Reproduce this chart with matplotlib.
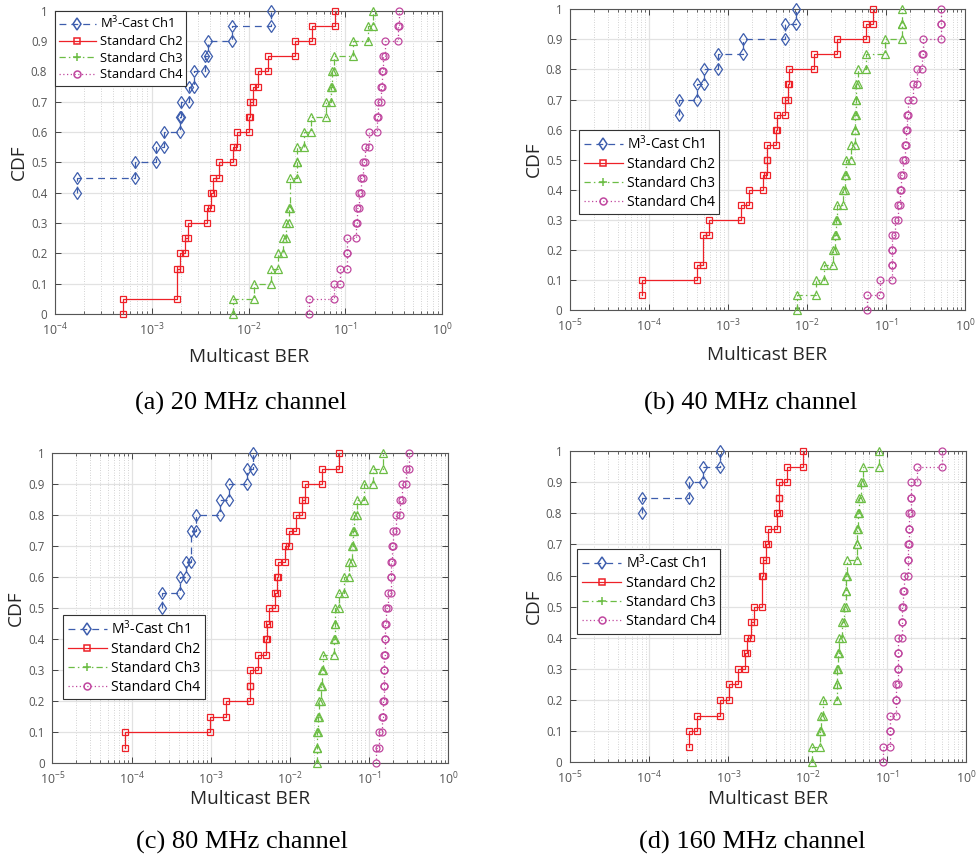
import numpy as np
import matplotlib
matplotlib.use("Agg")
import matplotlib.pyplot as plt
from matplotlib.lines import Line2D
from matplotlib.ticker import LogLocator, NullFormatter

plt.rcParams['font.family'] = ['Open Sans', 'DejaVu Sans']
plt.rcParams['mathtext.fontset'] = 'custom'
plt.rcParams['mathtext.rm'] = 'Open Sans'
plt.rcParams['mathtext.it'] = 'Open Sans:italic'
plt.rcParams['mathtext.bf'] = 'Open Sans:bold'
plt.rcParams['mathtext.default'] = 'regular'

# Each run set has 20 trials; values are log10(multicast BER) of the trials
# with non-zero BER, plus the number of error-free trials.
N_RUNS = 20
series_names = ['M$^3$-Cast Ch1', 'Standard Ch2', 'Standard Ch3', 'Standard Ch4']
captions = ['(a) 20 MHz channel', '(b) 40 MHz channel',
            '(c) 80 MHz channel', '(d) 160 MHz channel']

# 20 MHz channel
a_ch1_zeros = 8
a_ch1 = [-3.77, -3.17, -2.96, -2.875, -2.71, -2.70, -2.617, -2.565, -2.45, -2.42, -2.17, -1.77]
a_ch2_zeros = 0
a_ch2 = [-3.295, -2.738, -2.738, -2.71, -2.655, -2.624, -2.434, -2.389, -2.372, -2.307,
         -2.159, -2.116, -1.994, -1.987, -1.952, -1.901, -1.798, -1.522, -1.343, -1.108]
a_ch3_zeros = 0
a_ch3 = [-2.159, -1.942, -1.773, -1.694, -1.649, -1.615, -1.580, -1.575, -1.575, -1.504,
         -1.500, -1.425, -1.356, -1.205, -1.150, -1.136, -1.119, -0.919, -0.771, -0.712]
a_ch4_zeros = 0
a_ch4 = [-1.377, -1.115, -1.057, -0.988, -0.985, -0.895, -0.878, -0.857, -0.843, -0.823,
         -0.802, -0.757, -0.671, -0.668, -0.633, -0.626, -0.609, -0.595, -0.461, -0.447]

# 40 MHz channel
b_ch1_zeros = 13
b_ch1 = [-3.616, -3.388, -3.304, -3.131, -2.814, -2.278, -2.139]
b_ch2_zeros = 1
b_ch2 = [-4.084, -3.388, -3.312, -3.312, -3.241, -2.835, -2.730, -2.553, -2.511, -2.502,
         -2.392, -2.376, -2.278, -2.236, -2.224, -1.907, -1.616, -1.253, -1.160]
b_ch3_zeros = 0
b_ch3 = [-2.131, -1.886, -1.785, -1.667, -1.646, -1.633, -1.624, -1.549, -1.515, -1.506,
         -1.447, -1.397, -1.392, -1.384, -1.376, -1.359, -1.257, -1.013, -0.802, -0.797]
b_ch4_zeros = 0
b_ch4 = [-1.245, -1.076, -0.926, -0.922, -0.918, -0.890, -0.852, -0.823, -0.810, -0.781,
         -0.764, -0.751, -0.734, -0.717, -0.654, -0.612, -0.549, -0.527, -0.308, -0.304]

# 80 MHz channel
c_ch1_zeros = 10
c_ch1 = [-3.611, -3.388, -3.312, -3.245, -3.245, -3.186, -2.883, -2.769, -2.546, -2.462]
c_ch2_zeros = 1
c_ch2 = [-4.082, -3.009, -2.813, -2.510, -2.504, -2.409, -2.308, -2.283, -2.258, -2.182,
         -2.163, -2.144, -2.056, -2.011, -1.929, -1.847, -1.809, -1.598, -1.380]
c_ch3_zeros = 0
c_ch3 = [-1.654, -1.652, -1.641, -1.628, -1.611, -1.590, -1.578, -1.439, -1.435, -1.426,
         -1.376, -1.317, -1.258, -1.220, -1.199, -1.187, -1.157, -1.060, -0.947, -0.829]
c_ch4_zeros = 0
c_ch4 = [-0.917, -0.875, -0.841, -0.829, -0.816, -0.812, -0.808, -0.803, -0.795, -0.787,
         -0.757, -0.728, -0.719, -0.707, -0.694, -0.656, -0.610, -0.589, -0.530, -0.496]

# 160 MHz channel
d_ch1_zeros = 16
d_ch1 = [-4.095, -3.497, -3.325, -3.106]
d_ch2_zeros = 1
d_ch2 = [-3.497, -3.401, -3.106, -2.989, -2.875, -2.790, -2.759, -2.715, -2.683, -2.580,
         -2.580, -2.557, -2.525, -2.500, -2.383, -2.365, -2.355, -2.264, -2.055]
d_ch3_zeros = 0
d_ch3 = [-1.949, -1.843, -1.831, -1.810, -1.627, -1.623, -1.620, -1.599, -1.566, -1.540,
         -1.515, -1.511, -1.498, -1.380, -1.372, -1.364, -1.351, -1.330, -1.296, -1.094]
d_ch4_zeros = 0
d_ch4 = [-1.052, -0.962, -0.958, -0.890, -0.886, -0.863, -0.859, -0.854, -0.812, -0.808,
         -0.795, -0.779, -0.732, -0.728, -0.726, -0.724, -0.696, -0.692, -0.623, -0.307]

x_min_exp = [-4, -5, -5, -5]

panels = [
    [(a_ch1, a_ch1_zeros), (a_ch2, a_ch2_zeros), (a_ch3, a_ch3_zeros), (a_ch4, a_ch4_zeros)],
    [(b_ch1, b_ch1_zeros), (b_ch2, b_ch2_zeros), (b_ch3, b_ch3_zeros), (b_ch4, b_ch4_zeros)],
    [(c_ch1, c_ch1_zeros), (c_ch2, c_ch2_zeros), (c_ch3, c_ch3_zeros), (c_ch4, c_ch4_zeros)],
    [(d_ch1, d_ch1_zeros), (d_ch2, d_ch2_zeros), (d_ch3, d_ch3_zeros), (d_ch4, d_ch4_zeros)],
]

BLUE = '#3d5dad'
RED = '#ee2128'
GREEN = '#6cbd45'
MAGENTA = '#c0479f'

styles = [
    dict(color=BLUE, linestyle=(0, (5.5, 4)), marker='d', markersize=6.0),
    dict(color=RED, linestyle='-', marker='s', markersize=5.0),
    dict(color=GREEN, linestyle=(0, (5, 2.5, 1.2, 2.5)), marker='^', markersize=5.5),
    dict(color=MAGENTA, linestyle=(0, (1, 2)), marker='o', markersize=5.0),
]
legend_markers = ['d', 's', '+', 'o']


def ecdf_stairs(log_ber, n_zero):
    """Vertices of the empirical CDF staircase (error-free runs are off the log axis)."""
    vals, counts = np.unique(np.asarray(log_ber, dtype=float), return_counts=True)
    cum = n_zero + np.concatenate([[0], np.cumsum(counts)])
    x = np.repeat(10.0 ** vals, 2)
    y = np.empty_like(x)
    y[0::2] = cum[:-1] / N_RUNS
    y[1::2] = cum[1:] / N_RUNS
    return x, y


W, H = 976, 859
fig = plt.figure(figsize=(W / 100, H / 100), dpi=100)

# axes boxes in pixels: left, top, right, bottom
boxes = [(55, 10.7, 442.3, 314.0), (570, 9.3, 965, 310.0),
         (52.3, 453.3, 448.3, 763.3), (570, 451.0, 966, 762.3)]
legend_ul = [(55, 10.7), (579.3, 130.0), (63.3, 615.0), (577.3, 549.3)]
legend_size = [9.4, 10.0, 10.1, 10.2]
xlabel_y = [357, 355, 799, 799]
caption_xy = [(241, 410), (751, 410), (242, 849), (752, 849)]

for p, (box, series) in enumerate(zip(boxes, panels)):
    l, t, r, b = box
    ax = fig.add_axes([l / W, 1 - b / H, (r - l) / W, (b - t) / H])
    for (vals, nz), st in zip(series, styles):
        x, y = ecdf_stairs(vals, nz)
        ax.plot(x, y, linewidth=0.9, markerfacecolor='none', markeredgewidth=0.9,
                clip_on=False, zorder=3, **st)
    ax.set_xscale('log')
    ax.set_xlim(10.0 ** x_min_exp[p], 1.0)
    ax.set_ylim(0, 1)
    majors = [10.0 ** k for k in range(x_min_exp[p], 1)]
    ax.set_xticks(majors)
    ax.set_xticklabels(['$10^{%d}$' % k for k in range(x_min_exp[p], 1)])
    ax.xaxis.set_minor_locator(LogLocator(base=10, subs=np.arange(2, 10)))
    ax.xaxis.set_minor_formatter(NullFormatter())
    yt = np.round(np.arange(0, 1.01, 0.1), 1)
    ax.set_yticks(yt)
    ax.set_yticklabels(['0' if v == 0 else ('1' if v == 1 else '%g' % v) for v in yt])
    ax.grid(which='major', color='#e2e2e2', linewidth=0.9, linestyle='-')
    ax.grid(which='minor', axis='x', color='#c4c4c4', linewidth=0.6, linestyle=(0, (1, 2)))
    ax.set_axisbelow(True)
    ax.tick_params(which='both', direction='in', top=True, right=True, colors='#444444',
                   labelcolor='#555555')
    ax.tick_params(which='major', length=4, width=0.7)
    ax.tick_params(which='minor', length=2, width=0.6)
    ax.tick_params(axis='y', pad=5.5, labelsize=8.3)
    ax.tick_params(axis='x', pad=5.5, labelsize=8.8)
    for s in ax.spines.values():
        s.set_color('#555555')
        s.set_linewidth(0.8)

    ax.set_xlabel('Multicast BER', fontsize=13.7, color='#262626')
    ax.xaxis.set_label_coords(0.5, (b - xlabel_y[p]) / (b - t))
    ax.xaxis.label.set_va('center')
    ax.set_ylabel('CDF', fontsize=13.7, color='#262626')
    ax.yaxis.set_label_coords(-36.5 / (r - l), 0.5)
    ax.yaxis.label.set_va('center')

    handles = [Line2D([], [], color=st['color'], linestyle=st['linestyle'], linewidth=0.9,
                      marker=m, markersize=st['markersize'], markerfacecolor='none',
                      markeredgewidth=1.1)
               for st, m in zip(styles, legend_markers)]
    lx, ly = legend_ul[p]
    ax.legend(handles, series_names, loc='upper left',
              bbox_to_anchor=((lx - l) / (r - l), (b - ly) / (b - t)),
              borderaxespad=0, fontsize=legend_size[p], frameon=True, fancybox=False,
              edgecolor='#333333', framealpha=1, handlelength=2.8, handletextpad=0.3,
              labelspacing=0.28, borderpad=0.32, numpoints=1)
    ax.get_legend().get_frame().set_linewidth(0.8)

    cx, cy = caption_xy[p]
    fig.text(cx / W, 1 - cy / H, captions[p], ha='center', va='baseline',
             family=['Liberation Serif', 'DejaVu Serif'], fontsize=19, color='black')

fig.savefig('out.png', dpi=100)
